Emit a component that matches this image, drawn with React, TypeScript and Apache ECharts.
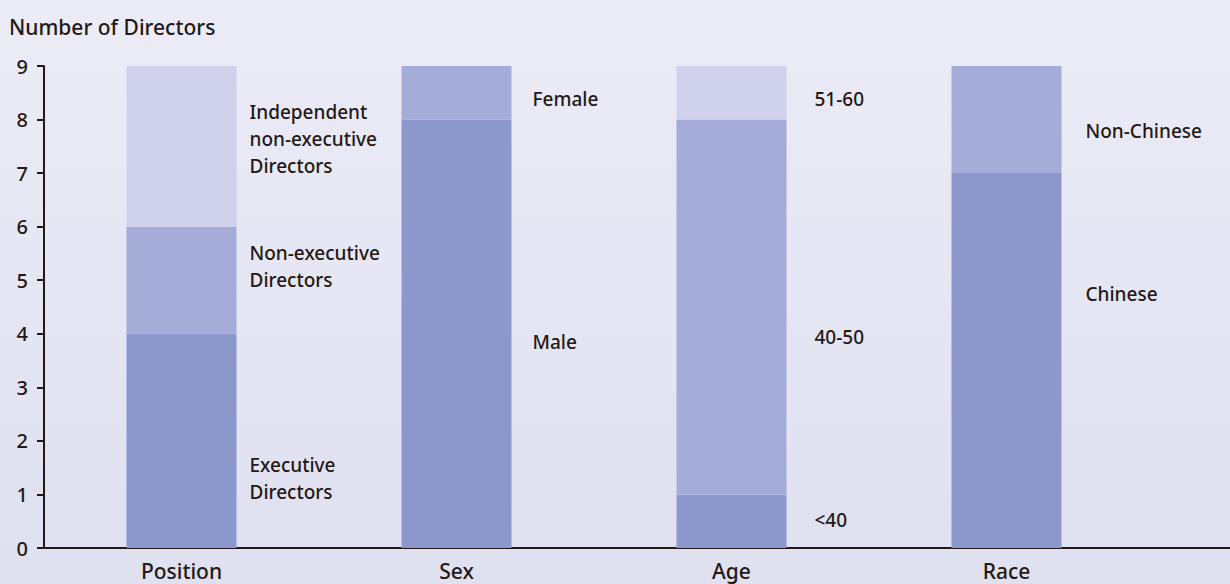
import React, { useEffect, useRef } from "react";
import * as echarts from "echarts";

const categories = ["Position", "Sex", "Age", "Race"];
// stacked segments (bottom, middle, top) per category
const bottomValues = [4, 8, 1, 7];
const middleValues = [2, 1, 7, 2];
const topValues = [3, 0, 1, 0];

// segment labels: [category index, y position (data units), text]
const segmentLabels: [number, number, string][] = [
  [0, 1.29, "Executive\nDirectors"],
  [0, 5.25, "Non-executive\nDirectors"],
  [0, 7.64, "Independent\nnon-executive\nDirectors"],
  [1, 3.85, "Male"],
  [1, 8.38, "Female"],
  [2, 0.52, "<40"],
  [2, 3.94, "40-50"],
  [2, 8.38, "51-60"],
  [3, 4.74, "Chinese"],
  [3, 7.79, "Non-Chinese"],
];
const labelOffsetX = [68, 76, 83, 79];

const FONT = "'Noto Sans', 'Open Sans', sans-serif";
const TEXT = "#231815";
const W = 500;

export default function App() {
  const ref = useRef<HTMLDivElement>(null);
  useEffect(() => {
    if (!ref.current) return;
    const chart = echarts.init(ref.current, null, { renderer: "svg" });
    chart.setOption({
      animation: false,
      backgroundColor: new echarts.graphic.LinearGradient(0, 0, 0, 1, [
        { offset: 0, color: "#ececf7" },
        { offset: 1, color: "#dfe0f0" },
      ]),
      textStyle: { fontFamily: FONT },
      grid: { left: 44, right: 86, top: 66, bottom: 36, containLabel: false },
      title: {
        text: "Number of Directors",
        left: 4,
        top: 11,
        textStyle: { fontFamily: FONT, fontSize: 21, fontWeight: W, color: TEXT },
      },
      xAxis: {
        type: "category",
        data: categories,
        axisLine: { lineStyle: { color: TEXT, width: 2 } },
        axisTick: { show: false },
        axisLabel: { color: TEXT, fontSize: 21, fontWeight: W, fontFamily: FONT, margin: 12 },
      },
      yAxis: {
        type: "value",
        min: 0,
        max: 9,
        interval: 1,
        splitLine: { show: false },
        axisLine: { show: true, lineStyle: { color: TEXT, width: 2 } },
        axisTick: { show: true, length: 7, lineStyle: { color: TEXT, width: 2 } },
        axisLabel: { color: TEXT, fontSize: 20, fontWeight: W, fontFamily: FONT, margin: 16 },
      },
      graphic: [
        {
          type: "line",
          shape: { x1: 1144, y1: 548, x2: 1230, y2: 548 },
          style: { stroke: TEXT, lineWidth: 2 },
        },
      ],
      series: [
        {
          type: "bar",
          stack: "s",
          barWidth: 110,
          data: bottomValues,
          itemStyle: { color: "#8c98cb" },
        },
        {
          type: "bar",
          stack: "s",
          barWidth: 110,
          data: middleValues,
          itemStyle: { color: "#a5acd8" },
        },
        {
          type: "bar",
          stack: "s",
          barWidth: 110,
          data: topValues,
          itemStyle: { color: "#d0d2ec" },
        },
        {
          type: "scatter",
          symbolSize: 0,
          silent: true,
          itemStyle: { opacity: 1 },
          data: segmentLabels.map(([c, y, t]) => ({
            value: [c, y],
            label: {
              show: true,
              position: "inside",
              offset: [labelOffsetX[c], 0],
              align: "left",
              verticalAlign: "middle",
              formatter: t,
              color: TEXT,
              fontSize: 19,
              fontWeight: W,
              lineHeight: 27,
              fontFamily: FONT,
            },
          })),
        },
      ],
    });
    return () => chart.dispose();
  }, []);
  return (
    <div
      ref={ref}
      style={{ position: "fixed", left: 0, top: 0, width: 1230, height: 584 }}
    />
  );
}
